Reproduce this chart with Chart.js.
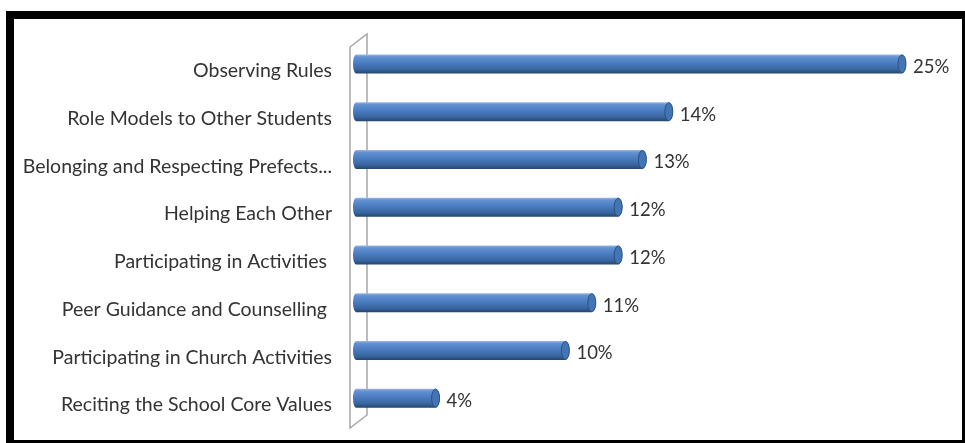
<!DOCTYPE html>
<html>
<head>
<meta charset="utf-8">
<script src="https://cdn.jsdelivr.net/npm/chart.js@4/dist/chart.umd.min.js"></script>
<style>
  html, body { margin: 0; padding: 0; background: #fff; }
  #marco {
    position: absolute; left: 6px; top: 11px;
    width: 948px; height: 421px;
    border-style: solid; border-color: #000;
    border-width: 8px 3px 3px 8px;
    background: #fff;
  }
  canvas { display: block; }
</style>
</head>
<body>
<div id="marco"><canvas id="myChart" width="948" height="421"></canvas></div>
<script>
const categorias = [
  "Observing Rules",
  "Role Models to Other Students",
  "Belonging and Respecting Prefects...",
  "Helping Each Other",
  "Participating in Activities ",
  "Peer Guidance and Counselling ",
  "Participating in Church Activities",
  "Reciting the School Core Values",
];
const porcentajes = [25, 14.4, 13.2, 12.1, 12.1, 10.9, 9.7, 3.8];
const etiquetas = ["25%", "14%", "13%", "12%", "12%", "11%", "10%", "4%"];

const fuente = "Lato, 'Open Sans', sans-serif";

// pared 3D a la izquierda (solo el contorno)
const paredPlugin = {
  id: "pared",
  beforeDatasetsDraw(chart) {
    const { ctx, chartArea } = chart;
    const L = chartArea.left;
    ctx.save();
    ctx.strokeStyle = "#a6a6a6";
    ctx.lineWidth = 1.5;
    ctx.beginPath();
    ctx.moveTo(L - 6, chartArea.top + 7);
    ctx.lineTo(L + 11, chartArea.top - 6);
    ctx.lineTo(L + 11, chartArea.bottom - 7);
    ctx.lineTo(L - 6, chartArea.bottom + 6);
    ctx.closePath();
    ctx.stroke();
    ctx.restore();
  },
};

// cilindros + etiquetas de valor
const cilindroPlugin = {
  id: "cilindro",
  afterDatasetsDraw(chart) {
    const { ctx } = chart;
    const meta = chart.getDatasetMeta(0);
    const rx = 4;
    meta.data.forEach((bar, i) => {
      const xb = bar.base;
      const xe = bar.x - rx;
      const h = bar.height;
      const top = bar.y - h / 2;
      const bottom = bar.y + h / 2;

      const grad = ctx.createLinearGradient(0, top, 0, bottom);
      grad.addColorStop(0, "#9dbbe6");
      grad.addColorStop(0.12, "#6593d3");
      grad.addColorStop(0.45, "#4a7cc0");
      grad.addColorStop(0.8, "#38659e");
      grad.addColorStop(1, "#23466f");

      ctx.save();
      ctx.beginPath();
      ctx.moveTo(xb, top);
      ctx.lineTo(xe, top);
      ctx.ellipse(xe, bar.y, rx, h / 2, 0, -Math.PI / 2, Math.PI / 2);
      ctx.lineTo(xb, bottom);
      ctx.ellipse(xb, bar.y, rx - 1, h / 2, 0, Math.PI / 2, Math.PI * 1.5);
      ctx.closePath();
      ctx.fillStyle = grad;
      ctx.fill();

      // tapa del extremo
      ctx.beginPath();
      ctx.ellipse(xe, bar.y, rx, h / 2 - 0.5, 0, 0, Math.PI * 2);
      ctx.fillStyle = "#4374b4";
      ctx.fill();
      ctx.strokeStyle = "#2b5288";
      ctx.lineWidth = 1;
      ctx.stroke();

      ctx.fillStyle = "#333";
      ctx.font = "18.5px " + fuente;
      ctx.textAlign = "left";
      ctx.textBaseline = "middle";
      ctx.fillText(etiquetas[i], bar.x + 7, bar.y + 3);
      ctx.restore();
    });
  },
};

const data = {
  labels: categorias,
  datasets: [
    {
      data: porcentajes,
      backgroundColor: "rgba(0,0,0,0)",
      borderWidth: 0,
      barThickness: 19,
    },
  ],
};

const config = {
  type: "bar",
  data,
  options: {
    indexAxis: "y",
    responsive: false,
    animation: false,
    layout: { padding: { top: 21, bottom: 18, right: 12, left: 0 } },
    plugins: { legend: { display: false }, tooltip: { enabled: false } },
    scales: {
      x: { display: false, min: 0, max: 27 },
      y: {
        grid: { display: false, drawTicks: false },
        border: { display: false },
        ticks: {
          padding: 24,
          labelOffset: 7,
          color: "#333",
          font: { family: fuente, size: 19.5 },
        },
        afterFit: (scale) => {
          scale.width = 342;
          scale.paddingTop = 0;
          scale.paddingBottom = 0;
        },
      },
    },
  },
  plugins: [paredPlugin, cilindroPlugin],
};

const myChart = new Chart(document.getElementById("myChart"), config);
</script>
</body>
</html>
